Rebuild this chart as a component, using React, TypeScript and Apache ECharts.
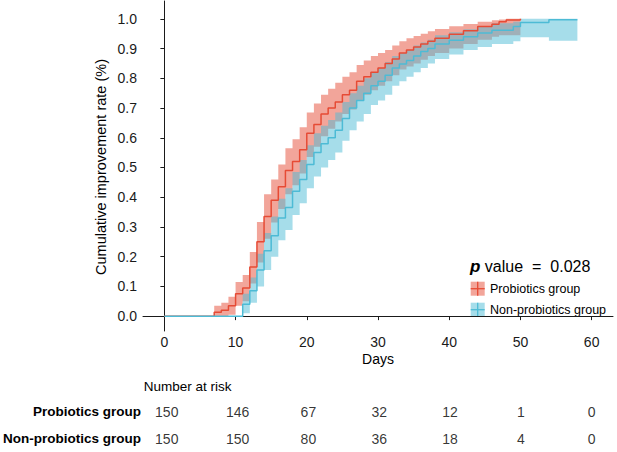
import React, { useEffect, useRef } from "react";
import * as echarts from "echarts";

// ---- tick labels ----
const xTicks = [0, 10, 20, 30, 40, 50, 60];
const yTicks = [0, 0.1, 0.2, 0.3, 0.4, 0.5, 0.6, 0.7, 0.8, 0.9, 1.0];

// ---- Probiotics group (cumulative improvement, step curve) ----
const probDays = [0, 7, 8, 9, 10, 11, 12, 13, 14, 15, 16, 17, 18, 19, 20, 21, 22, 23, 24, 25, 26, 27, 28, 29, 30, 31, 32, 33, 34, 35, 36, 37, 38, 40, 42, 44, 46, 47, 48, 50];
const probEst = [0, 0.013, 0.02, 0.035, 0.075, 0.095, 0.165, 0.25, 0.335, 0.39, 0.435, 0.49, 0.52, 0.56, 0.615, 0.645, 0.68, 0.7, 0.72, 0.745, 0.76, 0.79, 0.805, 0.82, 0.835, 0.85, 0.865, 0.885, 0.895, 0.905, 0.915, 0.925, 0.935, 0.948, 0.96, 0.974, 0.982, 0.99, 0.996, 1.0];
const probLower = [0, 0, 0, 0.005, 0.035, 0.05, 0.11, 0.18, 0.26, 0.315, 0.36, 0.41, 0.44, 0.48, 0.535, 0.57, 0.605, 0.63, 0.655, 0.68, 0.695, 0.725, 0.745, 0.76, 0.775, 0.79, 0.81, 0.83, 0.84, 0.85, 0.862, 0.875, 0.885, 0.9, 0.915, 0.93, 0.94, 0.945, 0.945, 1.0];
const probUpper = [0, 0.035, 0.045, 0.065, 0.115, 0.138, 0.216, 0.317, 0.41, 0.46, 0.51, 0.565, 0.595, 0.635, 0.685, 0.715, 0.745, 0.765, 0.785, 0.805, 0.82, 0.845, 0.86, 0.875, 0.885, 0.895, 0.91, 0.925, 0.935, 0.942, 0.95, 0.958, 0.966, 0.975, 0.983, 0.99, 0.995, 0.998, 1.0, 1.0];

// ---- Non-probiotics group ----
const nonDays = [0, 11, 12, 13, 14, 15, 16, 17, 18, 19, 20, 21, 22, 23, 24, 25, 26, 27, 28, 29, 30, 31, 32, 33, 34, 35, 36, 37, 38, 40, 42, 44, 46, 49, 50, 54, 58];
const nonEst = [0, 0.04, 0.085, 0.155, 0.22, 0.27, 0.33, 0.365, 0.42, 0.46, 0.51, 0.55, 0.58, 0.6, 0.625, 0.665, 0.7, 0.725, 0.75, 0.775, 0.79, 0.81, 0.835, 0.848, 0.86, 0.875, 0.89, 0.9, 0.915, 0.928, 0.94, 0.952, 0.962, 0.974, 0.988, 0.997, 0.997];
const nonLower = [0, 0.01, 0.045, 0.1, 0.155, 0.2, 0.255, 0.29, 0.34, 0.38, 0.43, 0.47, 0.5, 0.525, 0.55, 0.59, 0.625, 0.655, 0.68, 0.71, 0.725, 0.745, 0.775, 0.79, 0.805, 0.82, 0.835, 0.85, 0.865, 0.88, 0.895, 0.905, 0.915, 0.925, 0.938, 0.926, 0.926];
const nonUpper = [0, 0.075, 0.13, 0.21, 0.28, 0.335, 0.395, 0.43, 0.485, 0.525, 0.575, 0.615, 0.64, 0.66, 0.685, 0.72, 0.75, 0.775, 0.8, 0.82, 0.835, 0.855, 0.875, 0.885, 0.895, 0.91, 0.92, 0.93, 0.945, 0.955, 0.965, 0.975, 0.985, 0.99, 1.0, 1.0, 1.0];

// ---- Number at risk table ----
const groupNames = ["Probiotics group", "Non-probiotics group"];
const riskTimes = [0, 10, 20, 30, 40, 50, 60];
const probRisk = [150, 146, 67, 32, 12, 1, 0];
const nonRisk = [150, 150, 80, 36, 18, 4, 0];
const pValueText = "0.028";

const RED = "#E64B35";
const BLUE = "#4DBBD5";
const RED_FILL = "rgba(230,75,53,0.5)";
const BLUE_FILL = "rgba(77,187,213,0.5)";
const FONT = "'Liberation Sans', Arial, Helvetica, sans-serif";
const INK = "#1a1a1a";

function bandSeries(days: number[], lower: number[], upper: number[], fill: string, z: number) {
  return {
    type: "custom",
    xAxisIndex: 0,
    yAxisIndex: 0,
    data: [[days[0], lower[0]]],
    encode: { x: 0, y: 1 },
    silent: true,
    clip: false,
    z,
    renderItem: (_params: any, api: any) => {
      const top: number[][] = [];
      const bot: number[][] = [];
      for (let i = 0; i < days.length; i++) {
        const x0 = days[i];
        const x1 = i + 1 < days.length ? days[i + 1] : days[i];
        top.push(api.coord([x0, upper[i]]), api.coord([x1, upper[i]]));
        bot.push(api.coord([x0, lower[i]]), api.coord([x1, lower[i]]));
      }
      const pts = top.concat(bot.reverse());
      return { type: "polygon", shape: { points: pts }, style: { fill, stroke: null } };
    },
  };
}

function lineSeries(days: number[], est: number[], color: string, z: number) {
  return {
    type: "line",
    step: "end",
    xAxisIndex: 0,
    yAxisIndex: 0,
    data: days.map((d, i) => [d, est[i]]),
    symbol: "none",
    lineStyle: { color, width: 1.5 },
    silent: true,
    z,
  };
}

function riskSeries(counts: number[], name: string) {
  return {
    type: "scatter",
    xAxisIndex: 1,
    yAxisIndex: 1,
    data: riskTimes.map((t, i) => [t, name, counts[i]]),
    symbolSize: 1,
    itemStyle: { color: "rgba(0,0,0,0)" },
    silent: true,
    label: {
      show: true,
      position: "inside",
      formatter: (p: any) => String(p.value[2]),
      fontFamily: FONT,
      fontSize: 14,
      color: "#000",
    },
  };
}

export default function App() {
  const ref = useRef<HTMLDivElement>(null);
  useEffect(() => {
    if (!ref.current) return;
    const chart = echarts.init(ref.current, undefined, { renderer: "svg" });
    const keyX = 470.7;
    const key1Y = 281.7;
    const key2Y = 302.7;
    const keySize = 14;
    const legendKey = (y: number, fill: string, stroke: string) => ({
      type: "group",
      children: [
        { type: "rect", shape: { x: keyX, y, width: keySize, height: keySize }, style: { fill } },
        { type: "line", shape: { x1: keyX, y1: y + keySize / 2, x2: keyX + keySize, y2: y + keySize / 2 }, style: { stroke, lineWidth: 1.3 } },
        { type: "line", shape: { x1: keyX + keySize / 2, y1: y, x2: keyX + keySize / 2, y2: y + keySize }, style: { stroke, lineWidth: 1.3 } },
      ],
    });
    chart.setOption({
      animation: false,
      backgroundColor: "#fff",
      textStyle: { fontFamily: FONT },
      grid: [
        { left: 143, right: 4, top: 1, bottom: 121, containLabel: false },
        { left: 143, right: 4, top: 398.5, height: 58, containLabel: false },
      ],
      xAxis: [
        {
          type: "value",
          gridIndex: 0,
          min: -3,
          max: 63,
          axisLine: { show: true, lineStyle: { color: INK, width: 1 } },
          axisTick: { show: true, length: 4, customValues: xTicks, lineStyle: { color: INK } },
          axisLabel: { show: true, customValues: xTicks, margin: 4, fontSize: 14, color: INK, fontFamily: FONT },
          splitLine: { show: false },
        },
        { type: "value", gridIndex: 1, min: -3, max: 63, show: false },
      ],
      yAxis: [
        {
          type: "value",
          gridIndex: 0,
          min: -0.05,
          max: 1.06,
          axisLine: { show: true, lineStyle: { color: INK, width: 1 } },
          axisTick: { show: true, length: 4, customValues: yTicks, lineStyle: { color: INK } },
          axisLabel: {
            show: true,
            customValues: yTicks,
            margin: 6,
            fontSize: 14,
            color: INK,
            fontFamily: FONT,
            formatter: (v: number) => v.toFixed(1),
          },
          splitLine: { show: false },
        },
        {
          type: "category",
          gridIndex: 1,
          data: groupNames,
          inverse: true,
          axisLine: { show: false },
          axisTick: { show: false },
          axisLabel: { margin: 4.5, fontSize: 13.5, fontWeight: "bold", color: "#000", fontFamily: FONT },
          splitLine: { show: false },
        },
      ],
      series: [
        bandSeries(probDays, probLower, probUpper, RED_FILL, 1),
        bandSeries(nonDays, nonLower, nonUpper, BLUE_FILL, 2),
        lineSeries(probDays, probEst, RED, 3),
        lineSeries(nonDays, nonEst, BLUE, 4),
        riskSeries(probRisk, groupNames[0]),
        riskSeries(nonRisk, groupNames[1]),
      ],
      graphic: [
        {
          type: "text",
          x: 100.5,
          y: 167,
          rotation: Math.PI / 2,
          style: { text: "Cumulative improvement rate (%)", fontSize: 14.5, fontFamily: FONT, fill: "#000", align: "center", verticalAlign: "middle" },
        },
        {
          type: "text",
          x: 378,
          y: 358.5,
          style: { text: "Days", fontSize: 14, fontFamily: FONT, fill: "#000", align: "center", verticalAlign: "middle" },
        },
        {
          type: "text",
          x: 143.7,
          y: 386,
          style: { text: "Number at risk", fontSize: 13.5, fontFamily: FONT, fill: "#000", align: "left", verticalAlign: "middle" },
        },
        {
          type: "text",
          x: 470,
          y: 266,
          style: {
            text: "{p|p}{t| value }{e|=}{t| " + pValueText + "}",
            fontFamily: FONT,
            fill: "#000",
            align: "left",
            verticalAlign: "middle",
            rich: {
              p: { fontSize: 17, fontWeight: "bold", fontStyle: "italic", fontFamily: FONT, fill: "#000" },
              t: { fontSize: 16, fontFamily: FONT, fill: "#000" },
              e: { fontSize: 16, fontFamily: FONT, fill: "#000", padding: [0, 4.5] },
            },
          },
        },
        legendKey(key1Y, RED_FILL, RED),
        legendKey(key2Y, BLUE_FILL, BLUE),
        {
          type: "text",
          x: 490,
          y: key1Y + 7.5,
          style: { text: groupNames[0], fontSize: 12.5, fontFamily: FONT, fill: "#000", align: "left", verticalAlign: "middle" },
        },
        {
          type: "text",
          x: 490,
          y: key2Y + 7.5,
          style: { text: groupNames[1], fontSize: 12.5, fontFamily: FONT, fill: "#000", align: "left", verticalAlign: "middle" },
        },
      ],
    });
    return () => chart.dispose();
  }, []);
  return <div ref={ref} style={{ position: "fixed", left: 0, top: 0, width: 617, height: 452 }} />;
}
